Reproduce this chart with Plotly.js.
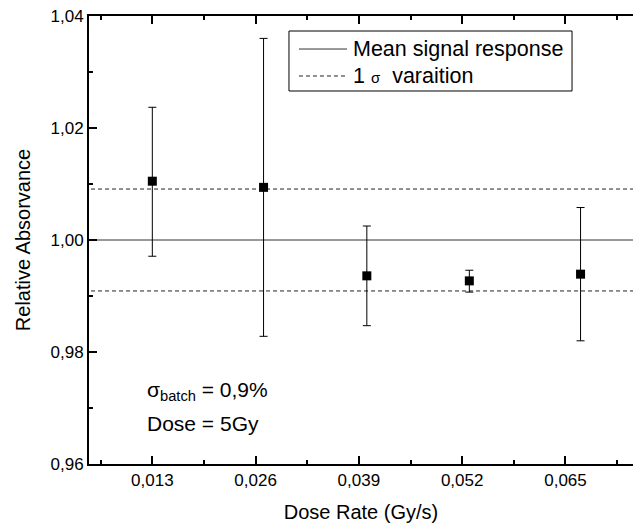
<!DOCTYPE html>
<html>
<head>
<meta charset="utf-8">
<script src="https://cdn.plot.ly/plotly-3.0.1.min.js"></script>
<style>body{margin:0;padding:0;background:#fff}#chart{width:633px;height:526px}</style>
</head>
<body>
<div id="chart"></div>
<script>
// Data
const doseRate = [0.013, 0.0270, 0.0400, 0.0529, 0.0669];
const relAbsorbance = [1.0105, 1.0094, 0.9936, 0.9927, 0.9939];
const errPlus = [0.0132, 0.0266, 0.0089, 0.0019, 0.0119];
const errMinus = [0.0134, 0.0266, 0.0089, 0.0020, 0.0119];
const meanLevel = 1.000;
const sigmaUpper = 1.0091;
const sigmaLower = 0.9909;
const lineSpan = [0.0, 0.08];
const xTickVals = [0.013, 0.026, 0.039, 0.052, 0.065];
const xTickLabels = ['0,013', '0,026', '0,039', '0,052', '0,065'];
const yTickVals = [0.96, 0.98, 1.00, 1.02, 1.04];
const yTickLabels = ['0,96', '0,98', '1,00', '1,02', '1,04'];
const legendLabels = ['Mean signal response', "1 <span style='font-size:15px'>σ</span>  varaition"];

const font = 'Liberation Sans, Arial, sans-serif';
const meanLine = {color: '#333', width: 1};
const sigmaLine = {color: '#222', width: 1, dash: '4px,3px'};

const traces = [
  {x: lineSpan, y: [meanLevel, meanLevel], mode: 'lines', name: legendLabels[0],
   showlegend: false, line: meanLine, hoverinfo: 'skip'},
  {x: lineSpan, y: [sigmaUpper, sigmaUpper], mode: 'lines', name: '1 σ varaition',
   showlegend: false, line: sigmaLine, hoverinfo: 'skip'},
  {x: lineSpan, y: [sigmaLower, sigmaLower], mode: 'lines', name: '1 σ varaition',
   showlegend: false, line: sigmaLine, hoverinfo: 'skip'},
  {x: doseRate, y: relAbsorbance, mode: 'markers', showlegend: false,
   marker: {symbol: 'square', size: 9, color: '#000'},
   error_y: {type: 'data', symmetric: false, array: errPlus, arrayminus: errMinus,
             color: '#000', thickness: 1, width: 4}}
];

// legend box drawn in paper coordinates
const lg = {x0: 0.3676, x1: 0.8879, y0: 0.8326, y1: 0.9665, sx0: 0.3860, sx1: 0.4743, tx: 0.4816, rows: [0.9263, 0.8661]};

const layout = {
  width: 633, height: 526,
  margin: {l: 89, r: 0, t: 16, b: 62},
  paper_bgcolor: '#fff', plot_bgcolor: '#fff',
  font: {family: font, color: '#000'},
  showlegend: false,
  xaxis: {
    range: [0.00503, 0.0735],
    tickmode: 'array', tickvals: xTickVals, ticktext: xTickLabels,
    ticks: 'inside', ticklen: 8, tickwidth: 2, tickcolor: '#000',
    minor: {tickmode: 'linear', tick0: 0, dtick: 0.0065, ticks: 'inside', ticklen: 4, tickwidth: 2, tickcolor: '#000'},
    showline: true, linecolor: '#000', linewidth: 2, mirror: 'ticks',
    showgrid: false, zeroline: false,
    tickfont: {family: font, size: 17, color: '#000'},
    title: {text: 'Dose Rate (Gy/s)', font: {family: font, size: 20, color: '#000'}, standoff: 16}
  },
  yaxis: {
    range: [0.96, 1.04],
    tickmode: 'array', tickvals: yTickVals, ticktext: yTickLabels,
    ticks: 'inside', ticklen: 8, tickwidth: 2, tickcolor: '#000',
    minor: {tickmode: 'linear', tick0: 0.95, dtick: 0.01, ticks: 'inside', ticklen: 4, tickwidth: 2, tickcolor: '#000'},
    showline: true, linecolor: '#000', linewidth: 2, mirror: false,
    showgrid: false, zeroline: false,
    tickfont: {family: font, size: 17, color: '#000'},
    title: {text: 'Relative Absorvance', font: {family: font, size: 20, color: '#000'}, standoff: 15}
  },
  shapes: [
    {type: 'rect', xref: 'paper', yref: 'paper', x0: lg.x0, x1: lg.x1, y0: lg.y0, y1: lg.y1,
     line: {color: '#000', width: 1}, fillcolor: '#fff', layer: 'above'},
    {type: 'line', xref: 'paper', yref: 'paper', x0: lg.sx0, x1: lg.sx1, y0: lg.rows[0], y1: lg.rows[0],
     line: meanLine, layer: 'above'},
    {type: 'line', xref: 'paper', yref: 'paper', x0: lg.sx0, x1: lg.sx1, y0: lg.rows[1], y1: lg.rows[1],
     line: sigmaLine, layer: 'above'}
  ],
  annotations: [
    {xref: 'paper', yref: 'paper', x: lg.tx, y: lg.rows[0], xanchor: 'left', yanchor: 'middle',
     text: legendLabels[0], showarrow: false, font: {family: font, size: 21.5, color: '#000'}},
    {xref: 'paper', yref: 'paper', x: lg.tx, y: lg.rows[1], xanchor: 'left', yanchor: 'middle',
     text: legendLabels[1], showarrow: false, font: {family: font, size: 21.5, color: '#000'}},
    {xref: 'paper', yref: 'paper', x: 0.103, y: 0.163, xanchor: 'left', yanchor: 'middle',
     text: 'σ<sub>batch</sub> = 0,9%', showarrow: false, font: {family: font, size: 21, color: '#000'}},
    {xref: 'paper', yref: 'paper', x: 0.103, y: 0.09, xanchor: 'left', yanchor: 'middle',
     text: 'Dose = 5Gy', showarrow: false, font: {family: font, size: 21, color: '#000'}}
  ]
};

Plotly.newPlot('chart', traces, layout, {staticPlot: true, displayModeBar: false});
</script>
</body>
</html>
